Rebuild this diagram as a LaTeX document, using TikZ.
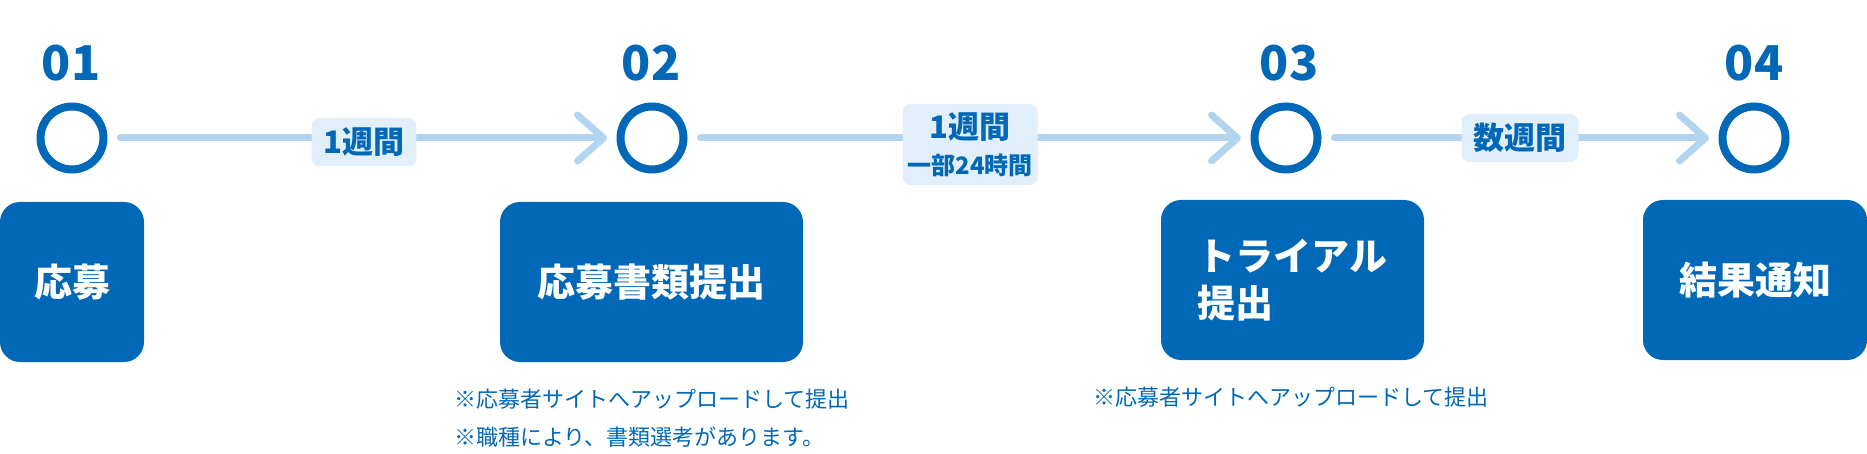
\documentclass[tikz,border=0pt]{standalone}
\usepackage{fontspec}
\setmainfont{Noto Sans CJK JP}
\usetikzlibrary{arrows.meta}
\definecolor{stepblue}{HTML}{0068B7}
\definecolor{linkblue}{HTML}{B2D4EF}
\definecolor{tagblue}{HTML}{E1EFFA}
\tikzset{
  stepnum/.style={anchor=base,text=stepblue,font=\bfseries\fontsize{48}{48}\selectfont},
  stepdot/.style={circle,draw=stepblue,line width=8pt,minimum size=63pt,inner sep=0pt},
  stepbox/.style={rectangle,rounded corners=20pt,fill=stepblue,text=white,minimum height=160pt,inner sep=0pt,font=\bfseries\fontsize{38}{47}\selectfont},
  flowline/.style={draw=linkblue,line width=7pt,line cap=round,shorten <=13pt,shorten >=9.5pt,-{Straight Barb[length=26pt,width=46pt,round]}},
  steptag/.style={fill=tagblue,rounded corners=8pt,text=stepblue,inner xsep=12pt,inner ysep=0pt,minimum height=48pt,font=\bfseries\fontsize{31}{31}\selectfont},
  stepnote/.style={anchor=base west,text=stepblue,inner sep=0pt,font=\fontsize{22}{22}\selectfont}
}
\begin{document}
\begin{tikzpicture}[x=1pt,y=-1pt]
\useasboundingbox (0,0) rectangle (1867,454);
% step numbers
\node[stepnum] (n1) at (71,81) {01};
\node[stepnum] (n2) at (651,81) {02};
\node[stepnum] (n3) at (1289,81) {03};
\node[stepnum] (n4) at (1754,81) {04};
% circles on the line
\node[stepdot] (c1) at (72,138) {};
\node[stepdot] (c2) at (652,138) {};
\node[stepdot] (c3) at (1286,138) {};
\node[stepdot] (c4) at (1754,138) {};
\draw[flowline] (c1) -- (c2);
\draw[flowline] (c2) -- (c3);
\draw[flowline] (c3) -- (c4);
% durations
\node[steptag] (t1) at (364,142) {1週間};
\node[steptag,minimum width=135pt,minimum height=81pt,inner xsep=0pt,align=center] (t2) at (970,144.5)
  {1週間\\[5pt]{\fontsize{24}{24}\selectfont 一部24時間}};
\node[steptag] (t3) at (1520,138) {数週間};
% boxes
\node[stepbox,minimum width=144pt] (b1) at (72,282) {応募};
\node[stepbox,minimum width=303pt] (b2) at (651.5,282) {応募書類提出};
\node[stepbox,minimum width=263pt,align=left] (b3) at (1292.5,280) {トライアル\\提出};
\node[stepbox,minimum width=224pt] (b4) at (1755,280) {結果通知};
% notes
\node[stepnote] (m1) at (454,407) {※応募者サイトへアップロードして提出};
\node[stepnote] (m2) at (454,445) {※職種により、書類選考があります。};
\node[stepnote] (m3) at (1093,405) {※応募者サイトへアップロードして提出};
\end{tikzpicture}
\end{document}
